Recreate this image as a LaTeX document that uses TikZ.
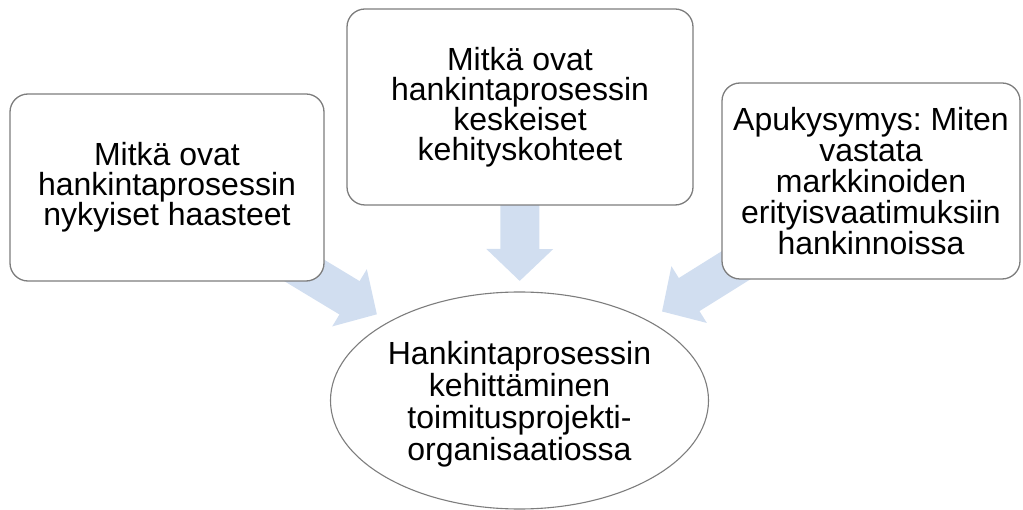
\documentclass[tikz,border=0pt]{standalone}
\usepackage{fontspec}
\setmainfont{Liberation Sans}
\frenchspacing
\usetikzlibrary{arrows.meta, shapes.geometric}
\pgfdeclarelayer{background}
\pgfsetlayers{background,main}
\definecolor{arrowblue}{RGB}{209,222,240}
\definecolor{boxgray}{RGB}{125,125,125}

\begin{document}
\begin{tikzpicture}
    [
        x=1pt, y=-1pt,
        question_node/.style={rectangle, rounded corners=18pt, draw=boxgray, line width=1.3pt, fill=white, align=center, inner sep=0pt, font=\fontsize{32}{30}\selectfont},
        goal_node/.style={ellipse, draw=boxgray, line width=1.1pt, fill=white, align=center, inner sep=0pt, minimum width=378pt, minimum height=217pt, text height=126pt, font=\fontsize{32}{32}\selectfont},
        fat_arrow/.style={arrowblue, line width=39pt, -{Triangle[width=65pt,length=32pt]}},
    ]
        \useasboundingbox (0,0) rectangle (1023,510) ;
        \node[question_node, minimum width=314pt, minimum height=187pt] (q1) at (167,187.5) {Mitkä ovat\\hankintaprosessin\\nykyiset haasteet} ;
        \node[question_node, minimum width=346pt, minimum height=196pt] (q2) at (520,107) {Mitkä ovat\\hankintaprosessin\\keskeiset\\kehityskohteet} ;
        \node[question_node, minimum width=298pt, minimum height=196pt, font=\fontsize{32}{31}\selectfont] (q3) at (871,181) {Apukysymys: Miten\\vastata\\markkinoiden\\erityisvaatimuksiin\\hankinnoissa} ;
        \node[goal_node] (goal) at (519.5,400.5) {Hankintaprosessin\\kehittäminen\\toimitusprojekti-\\organisaatiossa} ;
        \begin{pgfonlayer}{background}
            \draw[fat_arrow, shorten >=166.6pt] (q1.center) -- (goal.center) ;
            \draw[fat_arrow, shorten >=119.5pt] (q2.center) -- (goal.center) ;
            \draw[fat_arrow, shorten >=168pt] (q3.center) -- (goal.center) ;
        \end{pgfonlayer}
    \end{tikzpicture}
\end{document}
